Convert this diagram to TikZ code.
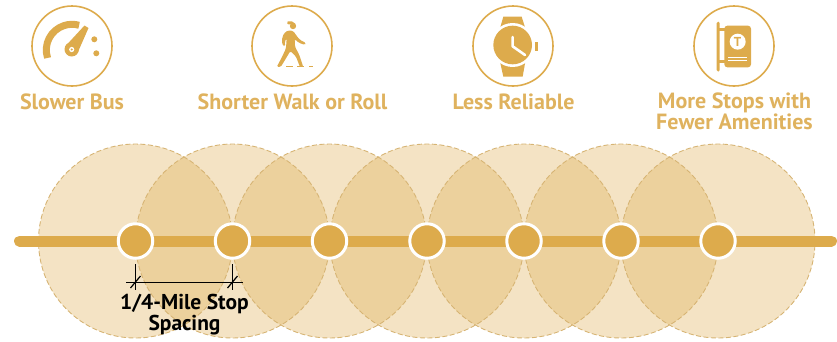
\documentclass[tikz,border=0pt]{standalone}
\usepackage{fontspec}
\setmainfont{PT Sans}
\definecolor{gold}{HTML}{DDAB4C}
\definecolor{labelgold}{HTML}{DFB25E}
\definecolor{edge}{HTML}{D6B474}
\tikzset{
  cover/.style={circle,minimum size=194pt,inner sep=0pt,fill=gold,fill opacity=.33},
  coveredge/.style={circle,minimum size=194pt,inner sep=0pt,draw=edge,line width=.9pt,dash pattern=on 5pt off 2.5pt},
  stopdot/.style={circle,minimum size=34.5pt,inner sep=0pt,fill=gold,draw=white,line width=3pt},
  ring/.style={circle,minimum size=80pt,inner sep=0pt,draw=gold,line width=1.6pt},
  title/.style={text=labelgold,font=\fontsize{22}{19}\selectfont\bfseries,align=center,inner sep=0pt},
  dimtext/.style={text=black,font=\fontsize{21.5}{21}\selectfont\bfseries,align=center,inner sep=0pt},
  dimline/.style={draw=black,line width=.9pt},
  icon/.style={x=.3333pt,y=-.3333pt}
}
\begin{document}
\begin{tikzpicture}[x=1pt,y=-1pt]
\useasboundingbox (0,0) rectangle (837,341);
% coverage circles
\foreach \n/\x in {1/135.5,2/232.5,3/329.5,4/427,5/524,6/621,7/718}{
  \node[cover] (c\n) at (\x,241) {};
}
\foreach \n/\x in {1/135.5,2/232.5,3/329.5,4/427,5/524,6/621,7/718}{
  \node[coveredge] (e\n) at (\x,241) {};
}
% route line
\coordinate (routeA) at (19.5,241);
\coordinate (routeB) at (831.5,241);
\draw[gold,line width=11pt,line cap=round] (routeA) -- (routeB);
\foreach \n/\x in {1/135.5,2/232.5,3/329.5,4/427,5/524,6/621,7/718}{
  \node[stopdot] (s\n) at (\x,241) {};
}
% dimension
\coordinate (d1t) at (135.5,264);
\coordinate (d1b) at (135.5,290);
\coordinate (d2t) at (232.5,264);
\coordinate (d2b) at (232.5,290);
\coordinate (h1) at (126,282);
\coordinate (h2) at (243,282);
\draw[dimline] (d1t) -- (d1b);
\draw[dimline] (d2t) -- (d2b);
\draw[dimline] (h1) -- (h2);
\draw[dimline,line width=1.2pt] (130.5,288) -- (140.5,276);
\draw[dimline,line width=1.2pt] (227.5,288) -- (237.5,276);
\node[dimtext] (dimlabel) at (184.5,314.5) {1/4-Mile Stop\\Spacing};
% rings
\node[ring] (r1) at (72,46) {};
\node[ring] (r2) at (292,46) {};
\node[ring] (r3) at (513,46) {};
\node[ring] (r4) at (734,46) {};
% titles
\node[title] (t1) at (72,102) {Slower Bus};
\node[title] (t2) at (292.5,102) {Shorter Walk or Roll};
\node[title] (t3) at (513.5,102) {Less Reliable};
\node[title] (t4) at (734.5,111) {More Stops with\\Fewer Amenities};
% gauge
\draw[gold,line width=7pt] (72,50) ++(-198:25.7) arc[start angle=-198,end angle=-74,radius=25.7];
\fill[gold] (71.7,49.3) circle (7.2);
\fill[gold] (66.5,45) -- (84.5,25.5) -- (88.5,28) -- (77.5,53) -- cycle;
\fill[white] (71.7,49.5) circle (2.6);
\fill[gold] (71.7,49.5) circle (1.1);
\fill[gold] (94.3,39.3) circle (3);
\fill[gold] (96.3,53.3) circle (3);
% walker
\begin{scope}[shift={(250,5)},icon]
\fill[gold] (129,63) circle (9.5);
\fill[gold] (122,58) .. controls (112,60) and (108,54) .. (113,49) .. controls (122,47) and (132,50) .. (136,56) -- cycle;
\fill[gold,rounded corners=1.5pt] (114,76) -- (130,78) -- (138,90) -- (149,104) -- (168,114) -- (165,120) -- (146,113) -- (134,102) -- (135,125) -- (148,150) -- (160,186) -- (150,186) -- (138,155) -- (121,138) -- (102,170) -- (92,186) -- (80,186) -- (96,156) -- (108,130) -- (110,100) -- (104,110) -- (106,124) -- (99,123) -- (95,106) -- (101,86) -- cycle;
\fill[gold] (108,183) rectangle (130,187);
\fill[gold] (142,183) rectangle (162,187);
\fill[gold] (178,183) rectangle (190,187);
\end{scope}
% watch
\begin{scope}[shift={(470,5)},icon]
\fill[gold] (100,35) -- (155,35) -- (166,70) -- (90,70) -- cycle;
\fill[gold] (100,215) -- (158,215) -- (166,170) -- (90,170) -- cycle;
\fill[white] (128,120) circle (66);
\fill[gold] (128,120) circle (58);
\fill[gold] (195,112) rectangle (205,138);
\draw[white,line width=2.6pt,line cap=round,line join=round] (128,96) -- (128,124) -- (165,150);
\end{scope}
% stop sign
\begin{scope}[shift={(690,5)},icon]
\fill[gold,rounded corners=1.5pt] (80,50) rectangle (89,200);
\fill[gold] (88,68) rectangle (104,78);
\fill[gold] (88,165) rectangle (104,175);
\fill[gold,rounded corners=3pt] (103,62) rectangle (183,187);
\fill[white] (143,110) circle (24);
\node[text=gold,font=\fontsize{13}{13}\selectfont\bfseries,inner sep=0pt] (tee) at (143,110) {T};
\fill[white] (115,155) rectangle (170,158);
\fill[white] (115,164) rectangle (170,167);
\end{scope}
\end{tikzpicture}
\end{document}
